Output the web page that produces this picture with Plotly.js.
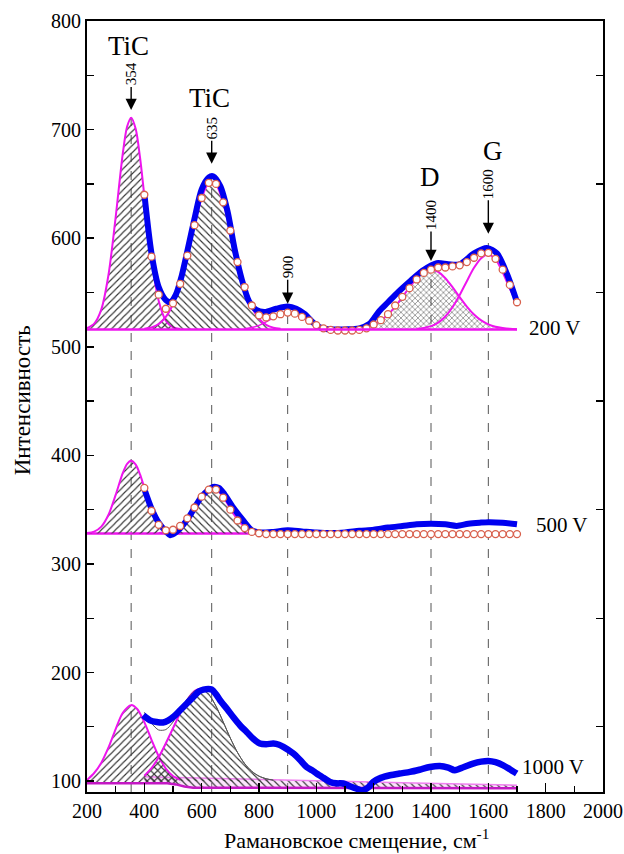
<!DOCTYPE html>
<html><head><meta charset="utf-8">
<script src="https://cdn.plot.ly/plotly-3.0.1.min.js"></script>
<style>body{margin:0;background:#fff}#chart{width:624px;height:854px}</style>
</head><body><div id="chart"></div>
<script>
// ---------------- data ----------------
// cumulative fit (open circles)
const fitX = [400,425,450,475,500,525,550,575,600,625,650,675,700,725,750,775,800,825,850,875,900,925,950,975,1000,1025,1050,1075,1100,1125,1150,1175,1200,1225,1250,1275,1300,1325,1350,1375,1400,1425,1450,1475,1500,1525,1550,1575,1600,1625,1650,1675,1700];
const fit200 = [640,583,548,535,540,558,584,612,637,651,650,633,607,578,555,538,529,527,528,530,531.5,530.5,527.5,524,520,517,515.5,515,515,515,515.5,517,520.5,524.5,530,538,546,554,562,568,571,573,573,574,575,578,582,586,586.5,581,571,557,541];
const fit500 = [370,349,336,331,331.5,335,342,352,362,368.5,368.5,361,350,340,333,329.5,328.3,327.5,327.5,327.5,327.5,327.5,327.5,327.5,327.5,327.5,327.5,327.5,327.5,327.5,327.5,327.5,327.5,327.5,327.5,327.5,327.5,327.5,327.5,327.5,327.5,327.5,327.5,327.5,327.5,327.5,327.5,327.5,327.5,327.5,327.5,327.5,327.5];

// experimental spectra (blue)
const exp200X = [400,425,450,475,490,510,530,550,575,600,625,640,665,690,715,740,765,790,820,860,900,930,960,990,1020,1060,1100,1150,1185,1220,1250,1280,1330,1370,1420,1460,1500,1550,1595,1630,1665,1700];
const exp200Y = [641,586,555,543,541,548,565,588,618,645,656,657,648,625,590,562,542,534,532,535,537,535,530,522,517,516,516,517,521,533,541,549,561,570,577,576,576,586,591,586,567,541];
const exp500X = [400,425,450,475,490,510,550,600,640,660,680,710,745,775,800,850,900,950,1000,1050,1100,1150,1200,1250,1300,1350,1400,1450,1490,1530,1570,1600,1650,1700];
const exp500Y = [369,351,338,330,326.5,329,341,362,371,370,364,352,340,331,329,329.5,331,330,329,328.5,329,330.5,331.5,333.5,335,336.5,337,336.5,335,337,338,338.5,338,336.5];
const exp1000X = [396,420,443,465,484,505,524,550,571,590,606,635,650,664,690,710,735,757,780,803,825,850,870,885,920,945,966,985,1001,1025,1048,1070,1094,1120,1141,1160,1180,1199,1225,1257,1290,1327,1360,1396,1431,1460,1483,1515,1547,1575,1600,1625,1652,1675,1699];
const exp1000Y = [160.6,156,154.5,154,156,160,165,172,177.5,182.5,184.3,184.3,180,174.5,166,159,151,145.3,139,134.6,134,134.6,133.5,131.6,125.4,119,113,110,107,103,99.3,98,97.8,95,93,91.5,94,99.3,103,105.4,107,108.5,110.5,113,114,112.5,110,113,116.2,118,118.6,117.5,114.6,111,107];

// baselines
const base200 = 516;
const base500 = 328;
const baseSpan = [200,1700];

// fitted components, 200 V
const c1X = [200,225,250,275,300,325,340,354,370,385,400,425,450,475,500,525];
const c1_200 = [517.1,521.3,534.5,566.3,619.5,678.4,702.8,711,700.5,674.3,639.2,581.3,542.4,524.1,517.9,516.3];
const c2_200X = [400,425,450,475,500,525,550,575,600,625,650,675,700,725,750,775,800,825,850,875];
const c2_200 = [516.7,517.9,521,527.5,539.4,558.3,583.7,612.1,636.9,650.7,649.1,632.6,606.5,578.3,554,536.5,525.8,520.2,517.6,516.5];
const c3_200X = [750,775,800,825,850,875,900,925,950,975,1000,1025,1050,1075];
const c3_200 = [516.7,517.7,519.7,522.9,526.6,529.8,531,529.8,526.6,522.9,519.7,517.7,516.7,516.2];
const dX = [1150,1175,1200,1225,1250,1275,1300,1325,1350,1375,1400,1425,1450,1475,1500,1525,1550,1575,1600,1625,1650,1675,1700];
const d_200 = [517.2,518.4,520.7,524.3,529.7,537,545.7,554.9,563.1,568.9,571,568.9,563.1,554.9,545.7,537,529.7,524.3,520.7,518.4,517.2,516.5,516.2];
const gX = [1350,1375,1400,1425,1450,1475,1500,1525,1550,1575,1600,1625,1650,1675,1700];
const g_200 = [516.5,517.4,519,522.3,527.9,536.4,547.6,560.4,572.7,581.6,585,580.5,568.6,553.5,539.4];

// fitted components, 500 V
const c1_500 = [328.4,329.8,334.4,345.3,363.6,383.8,392.2,395,391.4,382.4,370.3,350.4,337,330.8,328.7,328.1];
const c2_500X = [450,475,500,525,550,575,600,625,650,675,700,725,750,775,800,825,850];
const c2_500 = [328.4,329.2,331.3,335.5,342.6,352.2,362.1,368.8,369.5,362,351,341,334,330.3,328.8,328.2,328];

// fitted components, 1000 V
const c1_1000X = [200,225,250,275,300,325,354,375,400,425,450,475,500,525];
const c1_1000 = [101,107.5,117,131,148,163,170,166.4,154.3,138.1,122.9,111.6,104.7,101.2];
const c2_1000X = [400,425,450,475,500,525,550,575,600,625,650,675,700,725,750,775,800,825,850];
const c2_1000 = [105,112,122,134.9,148.7,162.8,175,183,185,179.9,169,154.6,139.6,126.4,116.1,109,104.6,102.2,100.9];
const fit1000 = [163.4,153.4,147.1,147.5,154.4,165,175.8,183,185,179.9,169,154.6,139.6,126.4,116.1,109,104.6,102.2,100.9];
const c1Base1000 = 98;
const c2Base1000 = 100;
const broadX = [400,700,1000,1300,1700];
const broadY = [104,102.2,100.4,98.6,96.2];
const lowX = [200,400,480,510,540,570,1700];
const lowY = [98,98,98,97,95,94,93.5];

// marked peaks
const peakPos = [354,635,900,1400,1600];
const peakTop = [711,656,533,573,597];
const arrowTip = [718,668.5,539.7,579,604];
const arrowOff = [-36,-36,-37,-46,-50];
const peakLabels = ['354','635','900','1400','1600'];
const phaseLabels = ['TiC','TiC','D','G'];
const phaseX = [346,629,1396,1617];
const phaseY = [777,729,656,680];
const voltLabels = ['200 V','500 V','1000 V'];
const voltX = [1832,1857,1825];
const voltY = [517,335.5,113];
const xTitle = 'Рамановское смещение, см<sup>-1</sup>';
const yTitle = 'Интенсивность';

// ---------------- drawing ----------------
const MAG = '#ee14ee';
const FONT = 'Liberation Serif, Times New Roman, serif';
const traces = [];
function base(xs, ys){
  return {x: xs, y: ys, mode:'lines', line:{width:0, color:'rgba(0,0,0,0)'}, hoverinfo:'skip', showlegend:false};
}
function hatched(xs, ys, bx, by, shape, size, lc, lw, bg){
  traces.push(base(bx, by));
  traces.push({x: xs, y: ys, mode:'lines', line:{color: lc, width: lw, shape:'spline', smoothing:0.8},
    fill:'tonexty', fillcolor:'rgba(0,0,0,0)',
    fillpattern:{shape: shape, size: size, solidity:0.22, fgcolor:'#333', bgcolor: bg || 'rgba(0,0,0,0)'},
    hoverinfo:'skip', showlegend:false});
}
function line(xs, ys, color, width, extra){
  traces.push(Object.assign({x: xs, y: ys, mode:'lines', line:{color: color, width: width, shape:'spline', smoothing:0.8}, hoverinfo:'skip', showlegend:false}, extra || {}));
}
const ends = a => [a[0], a[a.length-1]];

// 1000 V
hatched(broadX, broadY, lowX.slice(1), lowY.slice(1), '\\', 5, '#f080f0', 1.5, 'rgba(245,150,245,0.25)');
hatched(c1_1000X, c1_1000, ends(c1_1000X), [c1Base1000, c1Base1000], '/', 5, MAG, 2);
hatched(c2_1000X, c2_1000, ends(c2_1000X), [c2Base1000, c2Base1000], '\\', 5, '#555', 1);
line(c2_1000X.slice(0,9), c2_1000.slice(0,9), MAG, 2);
line(lowX, lowY, '#c418c4', 2.5, {line:{color:'#c418c4', width:2.5, shape:'linear'}});
line(c2_1000X, fit1000, '#555', 1);

// 500 V
line(baseSpan, [base500, base500], MAG, 2.5, {line:{color:MAG, width:2.5, shape:'linear'}});
hatched(c1X, c1_500, ends(c1X), [base500, base500], '/', 5, MAG, 2);
hatched(c2_500X, c2_500, ends(c2_500X), [base500, base500], '\\', 5, MAG, 2);

// 200 V
line(baseSpan, [base200, base200], MAG, 2.5, {line:{color:MAG, width:2.5, shape:'linear'}, yaxis:'y2'});
hatched(c1X, c1_200, ends(c1X), [base200, base200], '/', 5, MAG, 2);
hatched(c2_200X, c2_200, ends(c2_200X), [base200, base200], '\\', 5, MAG, 2);
hatched(dX, d_200, ends(dX), [base200, base200], 'x', 4, MAG, 2);
line(c3_200X, c3_200, MAG, 1.5);
line(gX, g_200, MAG, 2);

// experimental
line(exp1000X, exp1000Y, '#0000f0', 6.5);
line(exp500X, exp500Y, '#0000f0', 6);
line(exp200X, exp200Y, '#0000f0', 6);

// fit circles
const circ = {mode:'markers', marker:{size:7, color:'#ffffff', line:{color:'#d8604c', width:1.3}}, hoverinfo:'skip', showlegend:false};
traces.push(Object.assign({x: fitX, y: fit500}, circ));
traces.push(Object.assign({x: fitX, y: fit200}, circ));

const shapes = peakPos.map((p, i) => ({type:'line', xref:'x', yref:'y', x0:p, x1:p, y0:90, y1:peakTop[i],
  line:{color:'#555', width:1, dash:'dash'}, layer:'below'}));

const annotations = [];
peakPos.forEach((p, i) => annotations.push({x:p, y:arrowTip[i], xref:'x', yref:'y', text:peakLabels[i],
  showarrow:true, ax:0, ay:arrowOff[i], textangle:-90, arrowhead:2, arrowsize:1.6, arrowwidth:1.4,
  arrowcolor:'#000', standoff:0, font:{family:FONT, size:15, color:'#000'}}));
phaseLabels.forEach((t, i) => annotations.push({x:phaseX[i], y:phaseY[i], xref:'x', yref:'y', text:t,
  showarrow:false, font:{family:FONT, size:27, color:'#000'}}));
voltLabels.forEach((t, i) => annotations.push({x:voltX[i], y:voltY[i], xref:'x', yref:'y', text:t,
  showarrow:false, font:{family:FONT, size:21, color:'#000'}}));
// axis titles
annotations.push({xref:'paper', yref:'paper', x:0.523, y:-0.061, text:xTitle, showarrow:false,
  xanchor:'center', yanchor:'middle', font:{family:FONT, size:22, color:'#000'}});
annotations.push({xref:'paper', yref:'paper', x:-0.126, y:0.508, text:yTitle, showarrow:false, textangle:-90,
  xanchor:'center', yanchor:'middle', font:{family:FONT, size:23, color:'#000'}});

const layout = {
  width:624, height:854,
  margin:{l:87, r:21, t:21, b:62},
  paper_bgcolor:'#fff', plot_bgcolor:'#fff',
  showlegend:false,
  font:{family:FONT, color:'#000'},
  xaxis:{range:[200,2000], tick0:200, dtick:200, ticks:'inside', ticklen:9, tickwidth:1.5, tickcolor:'#000',
    minor:{dtick:100, ticks:'inside', ticklen:6, tickwidth:1.3, tickcolor:'#000'},
    showline:true, linewidth:2, linecolor:'#000', mirror:true, showgrid:false, zeroline:false,
    tickfont:{family:FONT, size:20, color:'#000'}},
  yaxis:{range:[90,800], tick0:100, dtick:100, ticks:'inside', ticklen:7, tickwidth:1.5, tickcolor:'#000',
    minor:{dtick:50, ticks:'inside', ticklen:7, tickwidth:1.3, tickcolor:'#000'},
    showline:true, linewidth:2, linecolor:'#000', mirror:true, showgrid:false, zeroline:false,
    tickfont:{family:FONT, size:20, color:'#000'}},
  yaxis2:{range:[90,800], overlaying:'y', side:'right', tick0:150, dtick:100, ticks:'inside', ticklen:7,
    tickwidth:1.3, tickcolor:'#000', showticklabels:false, showline:false, showgrid:false, zeroline:false},
  shapes: shapes,
  annotations: annotations
};
Plotly.newPlot('chart', traces, layout, {staticPlot:true});
</script></body></html>
